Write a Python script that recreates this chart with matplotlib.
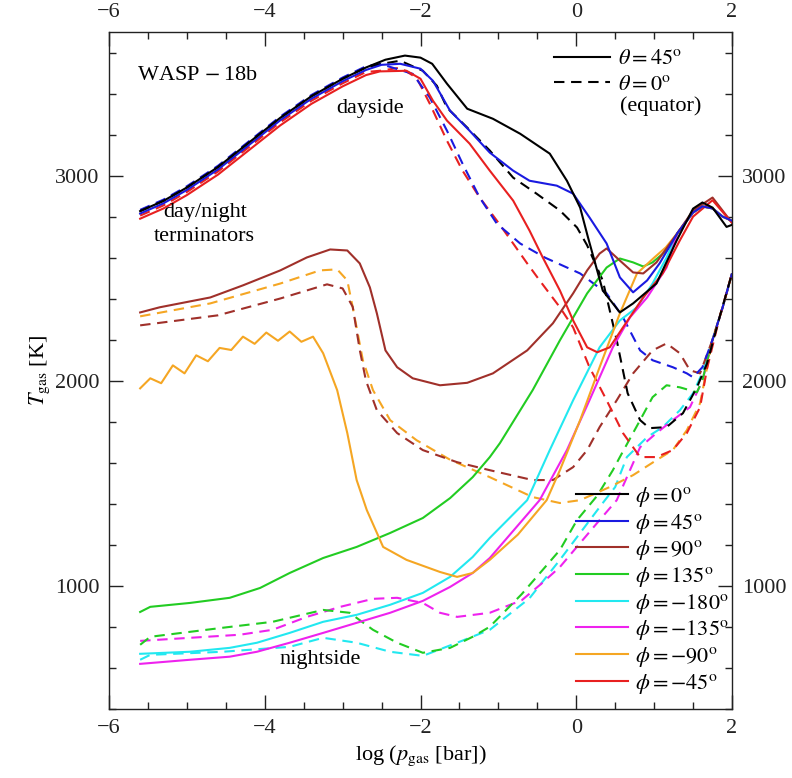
import matplotlib
matplotlib.use("Agg")
import matplotlib.pyplot as plt
from matplotlib.lines import Line2D
from matplotlib.ticker import MultipleLocator

plt.rcParams['font.family'] = ['Liberation Serif', 'DejaVu Serif']
plt.rcParams['mathtext.fontset'] = 'stix'

# ---------------- data ----------------
rise_x = [-5.6, -5.3, -5.0, -4.6, -4.2, -3.8, -3.4, -3.0, -2.7]
rise_T = [2815, 2865, 2930, 3030, 3150, 3270, 3375, 3460, 3515]

sol_tail_x = [1.3, 1.5, 1.62, 1.75, 1.88, 2.0]
sol_tail_T = [2720, 2820, 2850, 2840, 2800, 2780]
dash_tail_x = [1.75, 1.88, 2.0]
dash_tail_T = [2200, 2358, 2523]

# phi = 0 (black)
p0s_x = rise_x + [-2.45, -2.2, -2.0, -1.85, -1.66, -1.4, -1.07, -0.72, -0.34, -0.12, 0.05, 0.15, 0.34, 0.56, 0.73, 1.03, 1.29, 1.5, 1.62, 1.75, 1.93, 2.0]
p0s_T = [t + 12 for t in rise_T] + [3565, 3585, 3575, 3545, 3448, 3326, 3277, 3204, 3107, 2975, 2844, 2700, 2440, 2333, 2377, 2474, 2684, 2839, 2869, 2844, 2750, 2760]
p0d_x = rise_x + [-2.45, -2.26, -1.97, -1.79, -1.66, -1.4, -1.11, -0.81, -0.51, -0.21, 0.01, 0.14, 0.34, 0.52, 0.66, 0.82, 0.94, 1.16, 1.37, 1.55, 1.68, 1.84, 2.0]
p0d_T = [t + 12 for t in rise_T] + [3548, 3560, 3511, 3438, 3331, 3234, 3122, 2990, 2912, 2830, 2747, 2660, 2489, 2197, 1939, 1808, 1769, 1774, 1842, 1968, 2085, 2309, 2523]

# phi = 45 (blue)
p45s_x = rise_x + [-2.5, -2.26, -2.0, -1.84, -1.62, -1.37, -1.11, -0.81, -0.6, -0.25, -0.04, 0.17, 0.39, 0.56, 0.73, 0.91, 1.07] + sol_tail_x
p45s_T = rise_T + [3540, 3545, 3521, 3462, 3316, 3219, 3112, 3024, 2975, 2951, 2912, 2796, 2669, 2504, 2431, 2489, 2572] + sol_tail_T
p45d_x = rise_x + [-2.52, -2.1, -1.88, -1.66, -1.46, -1.24, -1.02, -0.72, -0.4, 0.05, 0.39, 0.6, 0.82, 0.98, 1.24, 1.42, 1.5, 1.62] + dash_tail_x
p45d_T = [t + 18 for t in rise_T] + [3545, 3496, 3380, 3219, 3058, 2893, 2766, 2669, 2600, 2523, 2426, 2309, 2148, 2100, 2066, 2036, 2017, 2066] + dash_tail_T

# phi = -45 (red)
pm45s_x = rise_x + [-2.52, -2.18, -2.0, -1.84, -1.66, -1.37, -1.11, -0.81, -0.6, -0.43, -0.21, -0.04, 0.14, 0.27, 0.43, 0.6, 0.86, 1.11, 1.33, 1.5, 1.75, 2.0]
pm45s_T = [t - 25 for t in rise_T] + [3508, 3511, 3472, 3365, 3268, 3156, 3024, 2878, 2732, 2601, 2440, 2294, 2163, 2139, 2163, 2260, 2406, 2523, 2684, 2800, 2880, 2770]
pm45d_x = rise_x + [-2.52, -2.26, -2.05, -1.88, -1.66, -1.46, -1.24, -1.02, -0.81, -0.63, -0.47, -0.21, -0.04, 0.17, 0.39, 0.6, 0.82, 1.03, 1.24, 1.42, 1.59, 1.68, 1.84, 2.0]
pm45d_T = [t - 10 for t in rise_T] + [3511, 3526, 3477, 3350, 3170, 3024, 2893, 2781, 2669, 2572, 2489, 2358, 2260, 2066, 1905, 1745, 1628, 1628, 1662, 1745, 1871, 2060, 2309, 2523]

# phi = 90 (brown)
p90s_x = [-5.6, -5.35, -4.7, -4.28, -3.8, -3.46, -3.16, -2.94, -2.78, -2.65, -2.56, -2.45, -2.3, -2.1, -1.75, -1.4, -1.07, -0.63, -0.3, -0.04, 0.14, 0.3, 0.39, 0.56, 0.73, 0.86, 1.03, 1.3, 1.5, 1.75, 2.0]
p90s_T = [2333, 2358, 2406, 2465, 2538, 2601, 2640, 2635, 2572, 2455, 2328, 2148, 2066, 2012, 1978, 1990, 2036, 2148, 2280, 2426, 2538, 2620, 2645, 2586, 2528, 2523, 2577, 2720, 2830, 2893, 2770]
p90d_x = [-5.6, -4.6, -3.8, -3.2, -3.0, -2.87, -2.78, -2.7, -2.56, -2.3, -1.97, -1.53, -1.11, -0.56, -0.3, -0.04, 0.14, 0.3, 0.52, 0.73, 0.98, 1.16, 1.33, 1.46, 1.59] + dash_tail_x
p90d_T = [2270, 2319, 2401, 2470, 2450, 2360, 2150, 2000, 1856, 1745, 1662, 1603, 1564, 1516, 1516, 1579, 1662, 1774, 1905, 2036, 2148, 2182, 2134, 2051, 2036] + dash_tail_T

# phi = -90 (orange)
pm90s_x = [-5.6, -5.47, -5.33, -5.18, -5.03, -4.88, -4.73, -4.58, -4.43, -4.28, -4.13, -3.98, -3.83, -3.68, -3.53, -3.38, -3.25, -3.07, -2.94, -2.82, -2.69, -2.48, -2.18, -1.75, -1.53, -1.33, -1.11, -0.75, -0.38, -0.21, 0.05, 0.3, 0.56, 0.78, 1.0, 1.15] + sol_tail_x
pm90s_T = [1963, 2012, 1988, 2075, 2036, 2124, 2095, 2160, 2150, 2215, 2180, 2235, 2195, 2240, 2190, 2215, 2134, 1954, 1745, 1516, 1370, 1190, 1127, 1068, 1044, 1063, 1127, 1250, 1418, 1564, 1808, 2066, 2328, 2523, 2600, 2650] + sol_tail_T
pm90d_x = [-5.6, -4.7, -3.8, -3.29, -3.07, -2.94, -2.87, -2.74, -2.61, -2.39, -2.05, -1.62, -1.11, -0.56, -0.21, 0.05, 0.43, 0.73, 1.03, 1.24, 1.42, 1.59] + dash_tail_x
pm90d_T = [2314, 2377, 2474, 2538, 2543, 2489, 2358, 2100, 1954, 1808, 1710, 1615, 1530, 1433, 1404, 1418, 1482, 1540, 1613, 1662, 1759, 1890] + dash_tail_T

# phi = 135 (green)
p135s_x = [-5.6, -5.47, -4.96, -4.45, -4.06, -3.68, -3.25, -2.82, -2.39, -1.97, -1.62, -1.33, -1.11, -0.98, -0.56, -0.21, 0.14, 0.39, 0.56, 0.73, 0.86, 0.98, 1.16] + sol_tail_x
p135s_T = [873, 898, 917, 942, 990, 1063, 1136, 1190, 1258, 1331, 1428, 1530, 1628, 1696, 1954, 2197, 2426, 2552, 2596, 2577, 2557, 2577, 2635] + sol_tail_T
p135d_x = [-5.6, -5.47, -4.54, -3.9, -3.25, -2.91, -2.61, -2.3, -1.97, -1.62, -1.33, -1.11, -0.7, -0.21, 0.01, 0.27, 0.47, 0.56, 0.82, 0.98, 1.16, 1.33, 1.55, 1.62] + dash_tail_x
p135d_T = [713, 752, 796, 825, 883, 869, 786, 723, 674, 698, 752, 801, 960, 1175, 1321, 1440, 1564, 1628, 1808, 1920, 1978, 1968, 1944, 2002] + dash_tail_T

# phi = -180 (cyan)
pm180s_x = [-5.6, -4.96, -4.45, -4.1, -3.68, -3.25, -2.82, -2.39, -1.97, -1.62, -1.33, -1.11, -0.63, -0.34, -0.04, 0.3, 0.56, 0.78, 0.98, 1.16] + sol_tail_x
pm180s_T = [669, 679, 698, 723, 771, 825, 859, 908, 966, 1044, 1141, 1234, 1418, 1662, 1905, 2163, 2294, 2358, 2474, 2601] + sol_tail_T
pm180d_x = [-5.6, -5.47, -4.54, -3.68, -3.25, -2.82, -2.39, -1.97, -1.53, -1.11, -0.6, -0.21, 0.05, 0.34, 0.5, 0.65, 0.91, 1.11, 1.33, 1.5, 1.62] + dash_tail_x
pm180d_T = [640, 664, 679, 703, 747, 723, 679, 659, 723, 786, 940, 1127, 1258, 1404, 1482, 1628, 1725, 1774, 1856, 1939, 2040] + dash_tail_T

# phi = -135 (magenta)
pm135s_x = [-5.6, -4.96, -4.45, -4.1, -3.68, -3.25, -2.82, -2.39, -1.97, -1.62, -1.33, -1.11, -0.47, -0.12, 0.17, 0.47, 0.69, 0.91, 1.16] + sol_tail_x
pm135s_T = [620, 640, 655, 679, 723, 771, 820, 869, 927, 995, 1063, 1136, 1418, 1662, 1905, 2163, 2309, 2406, 2552] + sol_tail_T
pm135d_x = [-5.6, -4.96, -4.32, -3.9, -3.46, -3.03, -2.61, -2.3, -1.97, -1.75, -1.53, -1.11, -0.7, -0.45, -0.21, 0.05, 0.3, 0.52, 0.82, 1.03, 1.24, 1.46, 1.62] + dash_tail_x
pm135d_T = [732, 747, 762, 786, 849, 898, 937, 942, 917, 869, 849, 869, 930, 1010, 1092, 1209, 1321, 1418, 1676, 1745, 1808, 1871, 2000] + dash_tail_T

phi_labels = [r'$\phi=0^{\rm o}$', r'$\phi=45^{\rm o}$', r'$\phi=90^{\rm o}$', r'$\phi=135^{\rm o}$',
              r'$\phi=-180^{\rm o}$', r'$\phi=-135^{\rm o}$', r'$\phi=-90^{\rm o}$', r'$\phi=-45^{\rm o}$']
phi_colors = ['#000000', '#1a1ae0', '#a0302a', '#22cc22', '#22e8f0', '#ee22ee', '#f5a623', '#e82020']

series = [
    (p0s_x, p0s_T, p0d_x, p0d_T),
    (p45s_x, p45s_T, p45d_x, p45d_T),
    (p90s_x, p90s_T, p90d_x, p90d_T),
    (p135s_x, p135s_T, p135d_x, p135d_T),
    (pm180s_x, pm180s_T, pm180d_x, pm180d_T),
    (pm135s_x, pm135s_T, pm135d_x, pm135d_T),
    (pm90s_x, pm90s_T, pm90d_x, pm90d_T),
    (pm45s_x, pm45s_T, pm45d_x, pm45d_T),
]

# ---------------- figure ----------------
fig = plt.figure(figsize=(7.92, 7.78), dpi=100)
ax = fig.add_axes([109/792, 1 - 709/778, 623/792, 677/778])

lw = 1.5
order = [4, 5, 3, 6, 2, 7, 1, 0]
for i in order:
    sx, sT, dx, dT = series[i]
    ax.plot(dx, dT, color=phi_colors[i], lw=lw, ls=(0, (5, 3.2)))
for i in order:
    sx, sT, dx, dT = series[i]
    ax.plot(sx, sT, color=phi_colors[i], lw=lw, ls='-')

ax.set_xlim(-6, 2)
ax.set_ylim(400, 3700)
ax.xaxis.set_major_locator(MultipleLocator(2))
ax.xaxis.set_minor_locator(MultipleLocator(0.5))
ax.yaxis.set_major_locator(MultipleLocator(1000))
ax.yaxis.set_minor_locator(MultipleLocator(200))
ax.tick_params(which='both', direction='in', top=True, right=True,
               labeltop=True, labelright=True, labelsize=16, width=1.0, colors='#222222')
ax.tick_params(which='major', length=10, pad=7)
ax.tick_params(which='minor', length=5)
for sp in ax.spines.values():
    sp.set_linewidth(1.0)
    sp.set_color('#222222')

ax.set_xlabel(r'log ($p_{\rm gas}$ [bar])', fontsize=16, labelpad=4)
ax.set_ylabel(r'$T_{\rm gas}$ [K]', fontsize=16, labelpad=2)

# annotations
ax.text(-5.64, 3487, r'WASP$\,-$18b', fontsize=16, ha='left', va='center')
ax.text(-2.65, 3326, 'dayside', fontsize=16, ha='center', va='center')
ax.text(-4.77, 2762, 'day/night\nterminators', fontsize=16, ha='center', va='center', linespacing=1.35)
ax.text(-3.29, 640, 'nightside', fontsize=16, ha='center', va='center')

# theta legend
th_handles = [Line2D([], [], color='black', lw=lw, ls='-'),
              Line2D([], [], color='black', lw=lw, ls=(0, (5, 3.2)))]
leg1 = ax.legend(th_handles, [r'$\theta=45^{\rm o}$', r'$\theta=0^{\rm o}$'],
                 loc='upper left', bbox_to_anchor=(0.715, 0.975), frameon=False,
                 fontsize=16, handlelength=2.5, handletextpad=0.35, labelspacing=0.23,
                 borderpad=0, borderaxespad=0)
ax.add_artist(leg1)
fig.text(620/792, 1 - 106/778, '(equator)', fontsize=16, ha='left', va='center')

# phi legend
ph_handles = [Line2D([], [], color=c, lw=lw) for c in phi_colors]
leg2 = ax.legend(ph_handles, phi_labels, loc='upper left', bbox_to_anchor=(0.75, 0.331),
                 frameon=False, fontsize=16, handlelength=2.35, handletextpad=0.3,
                 labelspacing=0.12, borderpad=0, borderaxespad=0)

fig.savefig('out.png', dpi=100)
